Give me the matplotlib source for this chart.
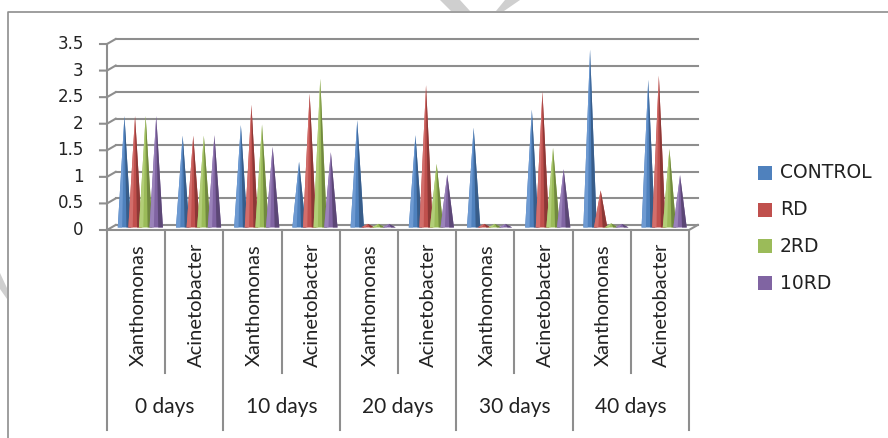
import matplotlib.pyplot as plt
from matplotlib.patches import Polygon, Rectangle
from matplotlib.transforms import IdentityTransform

# Values per series, one per bacterium/day column
days = ['0 days', '10 days', '20 days', '30 days', '40 days']
bacteria = ['Xanthomonas', 'Acinetobacter']
series = ['CONTROL', 'RD', '2RD', '10RD']
control = [2.05, 1.68, 1.88, 1.19, 1.97, 1.69, 1.83, 2.17, 3.30, 2.73]
rd = [2.05, 1.68, 2.26, 2.47, 0.02, 2.63, 0.02, 2.51, 0.65, 2.81]
rd2 = [2.05, 1.68, 1.89, 2.75, 0.02, 1.15, 0.02, 1.45, 0.03, 1.43]
rd10 = [2.05, 1.69, 1.47, 1.37, 0.02, 0.95, 0.02, 1.05, 0.02, 0.94]
yticks = [0, 0.5, 1, 1.5, 2, 2.5, 3, 3.5]
yticklabels = ['0', '0.5', '1', '1.5', '2', '2.5', '3', '3.5']

colors = ['#4F81BD', '#C0504D', '#9BBB59', '#8064A2']
darks = ['#385D8A', '#8C3836', '#71893F', '#5C4776']
lights = ['#6E9AD2', '#D26E6B', '#B2CE78', '#9A82BA']
grid_c = '#8e8e8e'
cat_font = ['Lato', 'DejaVu Sans']

# one category = 58.2 px, one unit of value = 53.14 px
XS, YS = 58.2, 53.14
X0, Y0 = 107, 230
DX, DY = 0.15, 0.095          # depth offset of the back wall

W, H = 888, 438
fig = plt.figure(figsize=(W / 100, H / 100), dpi=100)

# faint watermark pieces peeking out around the chart frame (pixel coords)
for pts in ([(440, 0), (460, 0), (470, 11), (451, 11)],
            [(505, 0), (520, 0), (504, 11), (496, 11)],
            [(0, 273), (7, 288), (7, 299), (0, 289)]):
    fig.patches.append(Polygon([(a, H - b) for a, b in pts], closed=True,
                               facecolor='#cfcfcf', edgecolor='none',
                               transform=IdentityTransform()))

ax = fig.add_axes([0, 0, 1, 1])
ax.patch.set_alpha(0)
ax.set_xlim(-X0 / XS, (W - X0) / XS)
ax.set_ylim((Y0 - H) / YS, Y0 / YS)
ax.axis('off')


def py(p):
    return (Y0 - p) / YS


def px(p):
    return (p - X0) / XS


# chart frame
ax.plot([px(8), px(8), px(900)], [py(440), py(12), py(12)], color=grid_c, lw=1.2, clip_on=False)

# back wall gridlines, side-wall connectors and front ticks
for v, lab in zip(yticks, yticklabels):
    ax.plot([DX, 10 + DX], [v + DY, v + DY], color=grid_c, lw=1.5, zorder=1)
    ax.plot([-0.12, 0, DX], [v, v, v + DY], color=grid_c, lw=1.5, zorder=1)
    ax.text(-0.40, v, lab, ha='right', va='center', fontsize=12,
            family='DejaVu Sans', color='#222222')
ax.plot([0, 0], [0, 3.5], color=grid_c, lw=1.5, zorder=1)
ax.plot([0, 10, 10 + DX], [0, 0, DY], color=grid_c, lw=1.5, zorder=1)

# cones
offsets = [0.30, 0.482, 0.664, 0.846]
hw = 0.115
for s, vals in enumerate([control, rd, rd2, rd10]):
    for i, v in enumerate(vals):
        cx = i + offsets[s]
        base = DY / 2
        tip = (cx, v + DY)
        z = 3 + s
        ax.add_patch(Polygon([tip, (cx - hw, base), (cx + hw, base)],
                             facecolor=colors[s], edgecolor='none', zorder=z))
        ax.add_patch(Polygon([tip, (cx - hw, base), (cx - 0.35 * hw, base)],
                             facecolor=lights[s], edgecolor='none', zorder=z))
        ax.add_patch(Polygon([tip, (cx + 0.3 * hw, base), (cx + hw, base)],
                             facecolor=darks[s], edgecolor='none', zorder=z))

# category table under the floor
for i in range(11):
    bottom = py(430) if i % 2 == 0 else py(373)
    ax.plot([i, i], [0, bottom], color=grid_c, lw=1.5, clip_on=False)
for i in range(10):
    ax.text(i + 0.53, py(305), bacteria[i % 2], rotation=90, ha='center', va='center',
            fontsize=14.5, family=cat_font, color='#222222')
for g, d in enumerate(days):
    ax.text(2 * g + 1, py(407), d, ha='center', va='center', fontsize=15,
            family=cat_font, color='#222222')

# legend
for k, name in enumerate(series):
    yc = py(173 + 36.7 * k)
    ax.add_patch(Rectangle((px(758), yc - 7 / YS), 14 / XS, 14 / YS,
                           facecolor=colors[k], edgecolor='none'))
    ax.text(px(780), yc, name, ha='left', va='center', fontsize=13.5,
            family='DejaVu Sans', color='#222222')

fig.savefig('out.png', dpi=100)
